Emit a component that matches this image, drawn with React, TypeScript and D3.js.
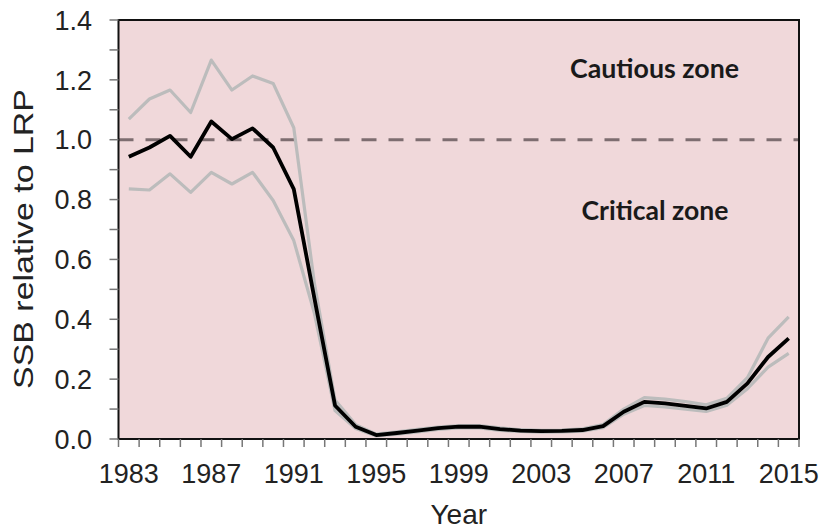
import React from "react";
import * as d3 from "d3";

const years: number[] = d3.range(1983, 2016);
const yearLabels: number[] = [1983, 1987, 1991, 1995, 1999, 2003, 2007, 2011, 2015];
const yTickLabels: number[] = [0, 0.2, 0.4, 0.6, 0.8, 1.0, 1.2, 1.4];
const yMinorTicks: number[] = d3.range(0, 15).map((i) => i / 10);

const ssb: number[] = [0.943, 0.974, 1.013, 0.943, 1.061, 1.002, 1.038, 0.974, 0.835, 0.47, 0.112, 0.041, 0.013, 0.02, 0.028, 0.036, 0.041, 0.041, 0.033, 0.028, 0.026, 0.027, 0.03, 0.043, 0.091, 0.124, 0.119, 0.111, 0.102, 0.124, 0.186, 0.274, 0.336];
const upper: number[] = [1.069, 1.136, 1.166, 1.091, 1.266, 1.166, 1.213, 1.188, 1.04, 0.52, 0.13, 0.048, 0.016, 0.024, 0.032, 0.04, 0.045, 0.045, 0.037, 0.031, 0.029, 0.03, 0.034, 0.048, 0.1, 0.138, 0.133, 0.125, 0.114, 0.136, 0.205, 0.337, 0.408];
const lower: number[] = [0.836, 0.832, 0.886, 0.824, 0.891, 0.852, 0.891, 0.797, 0.663, 0.42, 0.095, 0.035, 0.01, 0.016, 0.024, 0.032, 0.037, 0.037, 0.029, 0.025, 0.023, 0.024, 0.026, 0.038, 0.083, 0.112, 0.107, 0.1, 0.092, 0.113, 0.168, 0.24, 0.286];
const lrp = 1.0;

const W = 823;
const H = 531;
const L = 118.5;
const R = 799;
const T = 20;
const B = 439;

export default function App() {
  const x = d3.scaleBand<number>().domain(years).range([L, R]).padding(0);
  const cx = (yr: number) => (x(yr) as number) + x.bandwidth() / 2;
  const y = d3.scaleLinear().domain([0, 1.4]).range([B, T]);
  const line = (vals: number[]) =>
    d3.line<number>().x((_, i) => cx(years[i])).y((v) => y(v))(vals) as string;
  const boundaries = d3.range(0, years.length + 1).map((i) => L + i * x.bandwidth());
  const axisFont = "'Liberation Sans', Arial, sans-serif";
  return (
    <svg width={W} height={H} style={{ position: "absolute", left: 0, top: 0, background: "#fff" }}>
      <rect x={L} y={T} width={R - L} height={B - T} fill="#f0d8da" />
      <line x1={L} x2={R} y1={y(lrp)} y2={y(lrp)} stroke="#7d6d70" strokeWidth={3} strokeDasharray="15,12" />
      <path d={line(upper)} fill="none" stroke="#bcbcbc" strokeWidth={3.2} strokeLinejoin="round" />
      <path d={line(lower)} fill="none" stroke="#bcbcbc" strokeWidth={3.2} strokeLinejoin="round" />
      <path d={line(ssb)} fill="none" stroke="#000" strokeWidth={3.8} strokeLinejoin="round" />
      <rect x={L} y={T} width={R - L} height={B - T} fill="none" stroke="#111" strokeWidth={2} />
      {yMinorTicks.map((t) => (
        <line key={t} x1={L - 9} x2={L} y1={y(t)} y2={y(t)} stroke="#777" strokeWidth={1.5} />
      ))}
      {boundaries.map((bx, i) => (
        <line key={i} x1={bx} x2={bx} y1={B} y2={B + 8} stroke="#777" strokeWidth={1.5} />
      ))}
      {yTickLabels.map((t) => (
        <text key={t} x={92} y={y(t)} dy="0.36em" textAnchor="end" fontFamily={axisFont} fontSize={27} fill="#222">
          {t.toFixed(1)}
        </text>
      ))}
      {yearLabels.map((yr) => (
        <text key={yr} x={cx(yr)} y={483} textAnchor="middle" fontFamily={axisFont} fontSize={27} fill="#222">
          {yr}
        </text>
      ))}
      <text x={(L + R) / 2} y={524} textAnchor="middle" fontFamily={axisFont} fontSize={28} fill="#222">
        Year
      </text>
      <text
        transform={`translate(33,239) rotate(-90)`}
        textAnchor="middle"
        fontFamily={axisFont}
        fontSize={28}
        fill="#222"
        textLength={300}
        lengthAdjust="spacingAndGlyphs"
      >
        SSB relative to LRP
      </text>
      <text x={654.5} y={78} textAnchor="middle" fontFamily="Lato, 'Open Sans', sans-serif" fontWeight="bold" fontSize={26} fill="#1a1a1a" textLength={169} lengthAdjust="spacingAndGlyphs">
        Cautious zone
      </text>
      <text x={655} y={220} textAnchor="middle" fontFamily="Lato, 'Open Sans', sans-serif" fontWeight="bold" fontSize={26} fill="#1a1a1a" textLength={147} lengthAdjust="spacingAndGlyphs">
        Critical zone
      </text>
    </svg>
  );
}
